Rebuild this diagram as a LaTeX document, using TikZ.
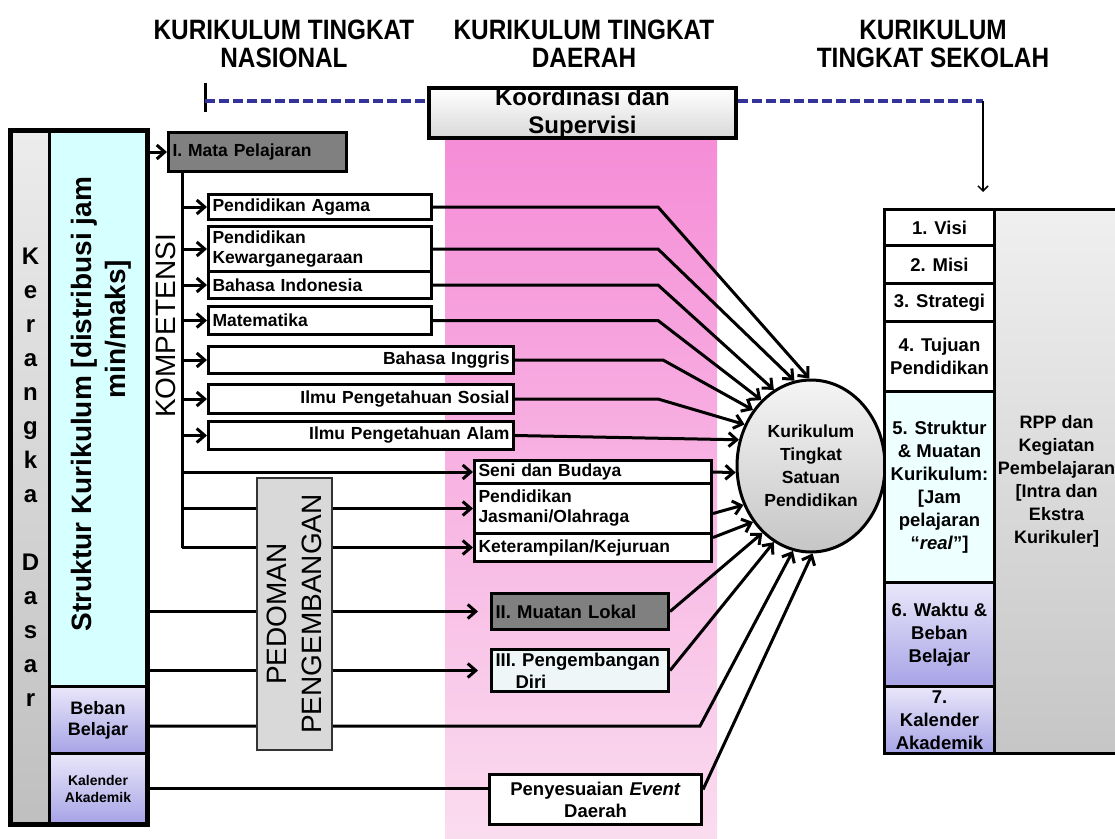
\documentclass[tikz,border=0pt]{standalone}
\usepackage{fontspec}
\setmainfont{Liberation Sans}
\newfontfamily\narrowsans[FakeStretch=0.87]{Liberation Sans}
\usetikzlibrary{shapes.geometric, arrows.meta, calc}
\definecolor{pinktop}{HTML}{F58BD6}
\definecolor{pinkbot}{HTML}{FADCEF}
\definecolor{dashblue}{HTML}{333399}
\definecolor{cyanbox}{HTML}{D6FFFF}
\definecolor{cyanrow}{HTML}{EDFFFF}
\definecolor{lavtop}{HTML}{E9E7FA}
\definecolor{lavbot}{HTML}{A7A3E6}
\definecolor{darkbox}{HTML}{808080}
\definecolor{pedomangray}{HTML}{D9D9D9}
\definecolor{diribox}{HTML}{EEF6F8}

\tikzset{
  heading/.style={font=\narrowsans\bfseries\fontsize{28}{28}\selectfont, align=center},
  subj/.style={draw, line width=3pt, fill=white, anchor=north west, inner xsep=4pt, inner ysep=0pt,
    align=left, font=\bfseries\fontsize{17.5}{20}\selectfont},
  rowbox/.style={draw, line width=3pt, anchor=north west, minimum width=110pt, inner sep=0pt,
    align=center, font=\bfseries\fontsize{18.5}{23}\selectfont},
  lavender/.style={top color=lavtop, bottom color=lavbot},
  feed/.style={line width=3pt, -{Straight Barb[length=8pt,width=14pt]}},
  plain/.style={line width=3pt},
  koordline/.style={line width=3.5pt, dashblue, dash pattern=on 10pt off 4pt},
}

\begin{document}
\begin{tikzpicture}[x=1pt, y=-1pt]

  \useasboundingbox (0,0) rectangle (1115,838);
  \clip (0,0) rectangle (1115,838);

  \node[heading] (nasional) at (284,44) {KURIKULUM TINGKAT\\NASIONAL};
  \node[heading] (daerah) at (584,44) {KURIKULUM TINGKAT\\DAERAH};
  \node[heading] (sekolah) at (933,44) {KURIKULUM\\TINGKAT SEKOLAH};

  \fill[top color=pinktop, bottom color=pinkbot] (445,120) rectangle (717,838);

  \node[draw, line width=4pt, top color=white, bottom color=gray!30, anchor=north west,
    minimum width=307pt, minimum height=49pt, inner sep=0pt, align=center,
    font=\bfseries\fontsize{24}{28}\selectfont] (koord) at (427,86) {Koordinasi dan\\Supervisi};

  \coordinate (nas) at (205,101);
  \coordinate (sek) at (983,101);
  \draw[line width=3pt] (205,83) -- (205,112);
  \draw[koordline] (nas) -- (nas -| koord.west);
  \draw[koordline] (koord.east |- sek) -- (sek);
  \draw[line width=1.5pt, -{Straight Barb[length=5pt,width=10pt]}, shorten >=16pt] (sek) -- (sek |- 0,208);

  % kerangka dasar
  \node[draw, line width=3pt, anchor=north west, minimum width=38pt, minimum height=692pt, inner sep=0pt,
    top color=gray!15, bottom color=gray!50, align=center,
    font=\bfseries\fontsize{24}{34}\selectfont] (kerangka) at (10,130)
    {K\\e\\r\\a\\n\\g\\k\\a\\[34pt]D\\a\\s\\a\\r};
  \node[draw, line width=3pt, anchor=north west, minimum width=97pt, minimum height=555pt,
    fill=cyanbox] (struktur) at (48,130) {};
  \node[rotate=90, font=\bfseries\fontsize{28}{34}\selectfont] (strukturA) at (84,404) {Struktur Kurikulum [distribusi jam};
  \node[rotate=90, font=\bfseries\fontsize{28}{34}\selectfont] (strukturB) at (118,329) {min/maks]};
  \node[draw, line width=3pt, anchor=north west, minimum width=97pt, minimum height=67pt, inner sep=0pt,
    lavender, align=center, font=\bfseries\fontsize{18}{21}\selectfont] (beban) at (48,685) {Beban\\Belajar};
  \node[draw, line width=3pt, anchor=north west, minimum width=97pt, minimum height=70pt, inner sep=0pt,
    lavender, align=center, font=\bfseries\fontsize{14}{17}\selectfont] (kalender) at (48,752) {Kalender\\Akademik};
  \draw[line width=4pt] (kerangka.north west) rectangle (kalender.south east);

  % mata pelajaran
  \node[subj, fill=darkbox, minimum width=178pt, minimum height=39pt, text width=170pt] (mapel) at (167,131) {I. Mata Pelajaran};
  \coordinate (trunk) at (182,170);

  \node[subj, minimum width=223pt, minimum height=25pt, text width=215pt] (agama) at (207,193) {Pendidikan Agama};
  \node[subj, minimum width=223pt, minimum height=45pt, text width=215pt] (pkn) at (207,225) {Pendidikan\\Kewarganegaraan};
  \node[subj, minimum width=223pt, minimum height=27pt, text width=215pt] (bindo) at (207,270) {Bahasa Indonesia};
  \node[subj, minimum width=223pt, minimum height=28pt, text width=215pt] (mtk) at (207,305) {Matematika};
  \node[subj, minimum width=305pt, minimum height=27pt, text width=297pt, align=right] (binggris) at (207,345) {Bahasa Inggris};
  \node[subj, minimum width=305pt, minimum height=29pt, text width=297pt, align=right] (ips) at (207,383) {Ilmu Pengetahuan Sosial};
  \node[subj, minimum width=305pt, minimum height=28pt, text width=297pt, align=right] (ipa) at (207,420) {Ilmu Pengetahuan Alam};

  \node[subj, minimum width=237pt, minimum height=23pt, text width=229pt] (seni) at (473,459) {Seni dan Budaya};
  \node[subj, minimum width=237pt, minimum height=50pt, text width=229pt] (jas) at (473,482) {Pendidikan\\Jasmani/Olahraga};
  \node[subj, minimum width=237pt, minimum height=28pt, text width=229pt] (ket) at (473,532) {Keterampilan/Kejuruan};

  \node[subj, fill=darkbox, minimum width=177pt, minimum height=36pt, text width=169pt,
    font=\bfseries\fontsize{18.5}{22}\selectfont] (muatan) at (490,592) {II. Muatan Lokal};
  \node[subj, fill=diribox, minimum width=177pt, minimum height=42pt, text width=169pt,
    font=\bfseries\fontsize{18.5}{22}\selectfont] (diri) at (490,648) {III. Pengembangan\\\hspace*{20pt}Diri};
  \node[subj, minimum width=212pt, minimum height=50pt, text width=204pt, align=center,
    font=\bfseries\fontsize{18.5}{22}\selectfont] (peny) at (488,773) {Penyesuaian \textit{Event}\\Daerah};

  \node[rotate=90, font=\fontsize{28}{34}\selectfont] (kompetensi) at (166,326) {KOMPETENSI};

  % satuan pendidikan
  \node[ellipse, draw, line width=3pt, top color=gray!8, bottom color=gray!45, minimum width=148pt,
    minimum height=172pt, inner sep=0pt, align=center,
    font=\bfseries\fontsize{17.5}{23}\selectfont] (kts) at (811,466) {Kurikulum\\Tingkat\\Satuan\\Pendidikan};

  \draw[feed] (struktur.east |- mapel.west) -- (mapel.west);
  \draw[plain] (trunk) -- (trunk |- ket.west);
  \foreach \subj in {agama,pkn,bindo,mtk,binggris,ips,ipa}{
    \draw[feed] (trunk |- \subj.west) -- (\subj.west);
  }
  \draw[feed] (trunk |- seni.west) -- (seni.west);
  \draw[feed] (trunk |- jas.west) -- (jas.west);
  \draw[feed] (trunk |- ket.west) -- (ket.west);
  \draw[feed, shorten >=12pt] (struktur.east |- muatan.west) -- (muatan.west);
  \draw[feed, shorten >=12pt] (struktur.east |- diri.west) -- (diri.west);
  \draw[feed] ([yshift=-6pt]beban.east) -- ++(552,0) -- (kts.258);
  \draw[plain] (kalender.east) -- (kalender.east -| peny.west);

  \node[draw=black!80, line width=2pt, fill=pedomangray, rotate=90, minimum width=272pt, minimum height=75pt,
    inner sep=0pt, align=center, font=\fontsize{28}{35}\selectfont] (pedoman) at (294.5,614) {PEDOMAN\\PENGEMBANGAN};

  \draw[feed] (agama.east) -- ++(225,0) -- (kts.91);
  \draw[feed] (pkn.east) -- ++(225,0) -- (kts.101);
  \draw[feed] (bindo.east) -- ++(225,0) -- (kts.116);
  \draw[feed] (mtk.east) -- ++(225,0) -- (kts.127);
  \draw[feed] (binggris.east) -- ++(148,0) -- (kts.136);
  \draw[feed] (ips.east) -- ++(143,0) -- (kts.148);
  \draw[feed] (ipa.east) -- (kts.160);
  \draw[feed] (seni.east) -- (kts.185);
  \draw[feed] ([yshift=-5pt]jas.east) -- (kts.210);
  \draw[feed] ([yshift=10pt]ket.east) -- (kts.224);
  \draw[feed] (muatan.east) -- (kts.234);
  \draw[feed] (diri.east) -- (kts.244);
  \draw[feed] ([yshift=10pt]peny.east) -- (kts.271);

  % sekolah
  \node[rowbox, fill=white, minimum height=36pt] (visi) at (883,208) {1. Visi};
  \node[rowbox, fill=white, minimum height=38pt] (misi) at (883,244) {2. Misi};
  \node[rowbox, fill=white, minimum height=38pt] (strategi) at (883,282) {3. Strategi};
  \node[rowbox, fill=white, minimum height=70pt] (tujuan) at (883,320) {4. Tujuan\\Pendidikan};
  \node[rowbox, fill=cyanrow, minimum height=191pt] (strukmuat) at (883,390)
    {5. Struktur\\\& Muatan\\Kurikulum:\\{}[Jam\\pelajaran\\“\textit{real}”]};
  \node[rowbox, lavender, minimum height=104pt] (waktu) at (883,581) {6. Waktu \&\\Beban\\Belajar};
  \node[rowbox, lavender, minimum height=67pt] (kalsek) at (883,685) {7.\\Kalender\\Akademik};
  \node[draw, line width=3pt, anchor=north west, minimum width=124pt, minimum height=544pt, inner sep=0pt,
    top color=gray!12, bottom color=gray!45, align=center,
    font=\bfseries\fontsize{18}{23}\selectfont] (rpp) at (993,208)
    {RPP dan\\Kegiatan\\Pembelajaran\\{}[Intra dan\\Ekstra\\Kurikuler]};

\end{tikzpicture}
\end{document}
